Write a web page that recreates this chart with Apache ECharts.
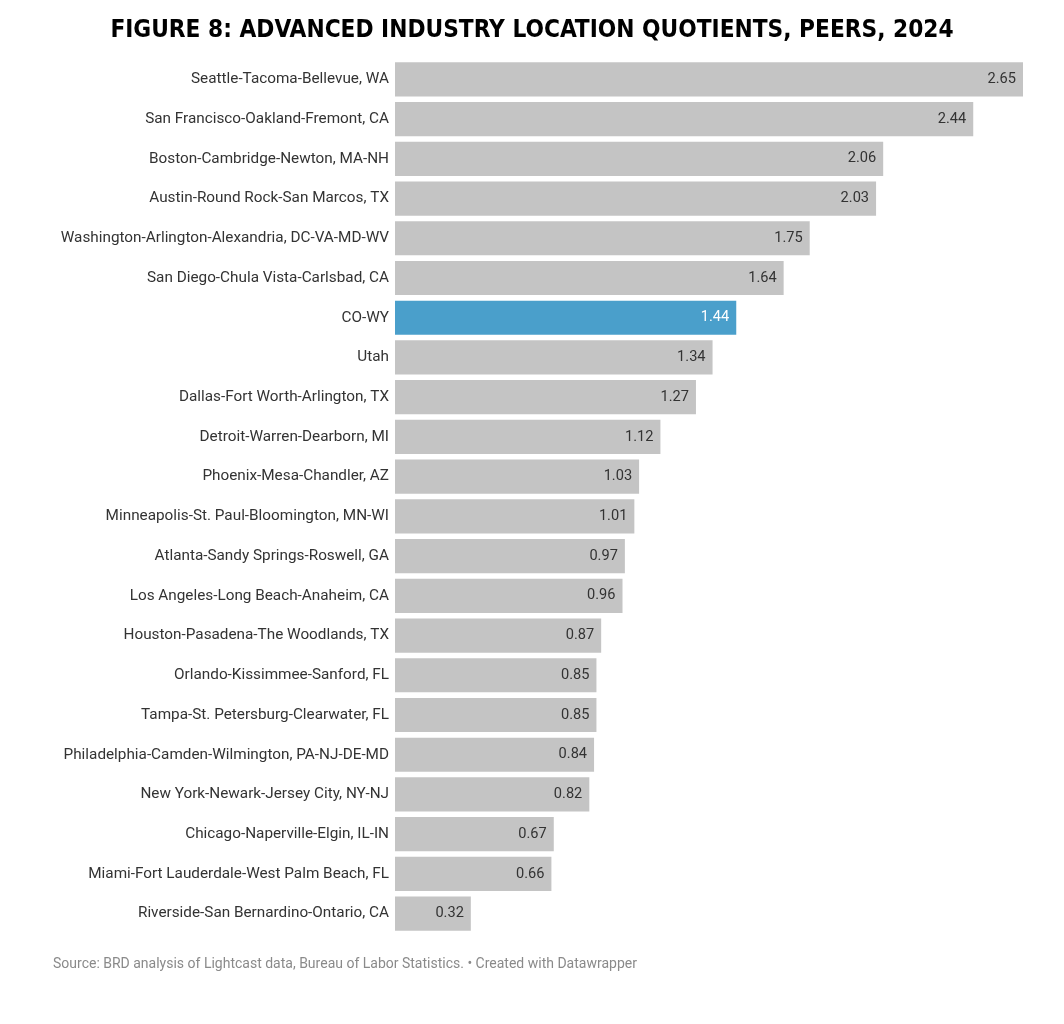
<!DOCTYPE html>
<html>
<head>
<meta charset="utf-8">
<script src="https://cdn.jsdelivr.net/npm/echarts@6/dist/echarts.min.js"></script>
<style>
  html, body { margin: 0; padding: 0; background: #fff; }
  #chart { width: 1064px; height: 1024px; }
</style>
</head>
<body>
<div id="chart"></div>
<script>
var regions = [
  'Seattle-Tacoma-Bellevue, WA',
  'San Francisco-Oakland-Fremont, CA',
  'Boston-Cambridge-Newton, MA-NH',
  'Austin-Round Rock-San Marcos, TX',
  'Washington-Arlington-Alexandria, DC-VA-MD-WV',
  'San Diego-Chula Vista-Carlsbad, CA',
  'CO-WY',
  'Utah',
  'Dallas-Fort Worth-Arlington, TX',
  'Detroit-Warren-Dearborn, MI',
  'Phoenix-Mesa-Chandler, AZ',
  'Minneapolis-St. Paul-Bloomington, MN-WI',
  'Atlanta-Sandy Springs-Roswell, GA',
  'Los Angeles-Long Beach-Anaheim, CA',
  'Houston-Pasadena-The Woodlands, TX',
  'Orlando-Kissimmee-Sanford, FL',
  'Tampa-St. Petersburg-Clearwater, FL',
  'Philadelphia-Camden-Wilmington, PA-NJ-DE-MD',
  'New York-Newark-Jersey City, NY-NJ',
  'Chicago-Naperville-Elgin, IL-IN',
  'Miami-Fort Lauderdale-West Palm Beach, FL',
  'Riverside-San Bernardino-Ontario, CA'
];
var quotients = [2.65, 2.44, 2.06, 2.03, 1.75, 1.64, 1.44, 1.34, 1.27, 1.12, 1.03,
  1.01, 0.97, 0.96, 0.87, 0.85, 0.85, 0.84, 0.82, 0.67, 0.66, 0.32];
var highlight = 'CO-WY';

var GRAY = '#c4c4c4';
var BLUE = '#4a9fcb';

var chart = echarts.init(document.getElementById('chart'));

var barData = quotients.map(function (v, i) {
  var hot = regions[i] === highlight;
  return {
    value: v,
    itemStyle: { color: hot ? BLUE : GRAY },
    label: { color: hot ? '#ffffff' : '#333333' }
  };
});

chart.setOption({
  animation: false,
  title: [{
    text: 'FIGURE 8: ADVANCED INDUSTRY LOCATION QUOTIENTS, PEERS, 2024',
    left: 'center',
    top: 14,
    textStyle: {
      fontFamily: 'DejaVu Sans Condensed, sans-serif',
      fontWeight: 'bold',
      fontSize: 24.2,
      color: '#000'
    }
  }, {
    text: 'Source: BRD analysis of Lightcast data, Bureau of Labor Statistics. \u2022 Created with Datawrapper',
    left: 53,
    top: 957,
    padding: 0,
    textStyle: {
      fontFamily: 'Roboto',
      fontWeight: 'normal',
      fontSize: 14,
      color: '#8a8a8a'
    }
  }],
  grid: { left: 395, right: 41, top: 59.5, bottom: 90.5, containLabel: false },
  xAxis: {
    type: 'value',
    min: 0,
    max: 2.65,
    show: false
  },
  yAxis: {
    type: 'category',
    inverse: true,
    data: regions,
    axisLine: { show: false },
    axisTick: { show: false },
    splitLine: { show: false },
    axisLabel: {
      fontFamily: 'Roboto',
      fontSize: 15.3,
      color: '#333',
      margin: 6
    }
  },
  series: [{
    type: 'bar',
    data: barData,
    barCategoryGap: '14%',
    label: {
      show: true,
      position: 'insideRight',
      distance: 7,
      fontFamily: 'Roboto',
      fontSize: 14.6,
      formatter: function (p) { return p.value.toFixed(2); }
    }
  }]
});
</script>
</body>
</html>
